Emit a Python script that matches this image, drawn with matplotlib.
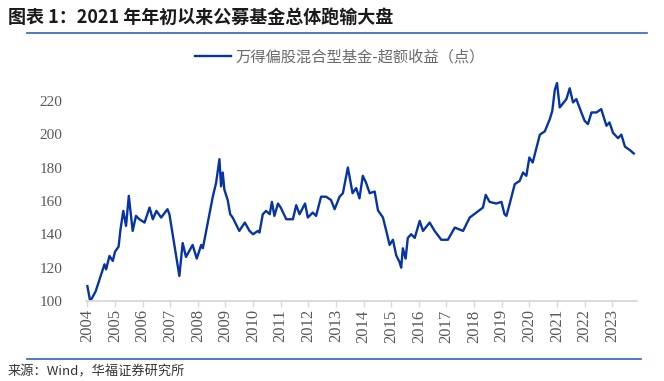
import matplotlib
matplotlib.use("Agg")
import matplotlib.pyplot as plt

plt.rcParams['font.family'] = ['Noto Sans CJK SC', 'DejaVu Sans']

# 万得偏股混合型基金-超额收益（点），
years = [
    2004.0, 2004.1, 2004.2, 2004.3, 2004.5, 2004.62, 2004.68, 2004.8, 2004.92, 2005.0,
    2005.13, 2005.2, 2005.3, 2005.4, 2005.5, 2005.64, 2005.76, 2005.88, 2006.07, 2006.25,
    2006.37, 2006.5, 2006.67, 2006.9, 2006.97, 2007.15, 2007.33, 2007.45, 2007.57, 2007.81,
    2007.96, 2008.12, 2008.18, 2008.3, 2008.42, 2008.54, 2008.66, 2008.78, 2008.84, 2008.9,
    2008.96, 2009.08, 2009.17, 2009.26, 2009.5, 2009.7, 2009.87, 2010.0, 2010.17, 2010.23,
    2010.35, 2010.47, 2010.6, 2010.68, 2010.77, 2010.9, 2011.0, 2011.2, 2011.44, 2011.56,
    2011.68, 2011.88, 2011.98, 2012.16, 2012.28, 2012.46, 2012.64, 2012.82, 2012.95, 2013.13,
    2013.25, 2013.43, 2013.6, 2013.73, 2013.85, 2013.97, 2014.09, 2014.22, 2014.4, 2014.52,
    2014.7, 2014.82, 2014.94, 2015.06, 2015.18, 2015.3, 2015.36, 2015.42, 2015.52, 2015.6,
    2015.72, 2015.85, 2016.03, 2016.15, 2016.39, 2016.57, 2016.81, 2017.05, 2017.3, 2017.6,
    2017.84, 2018.08, 2018.32, 2018.42, 2018.56, 2018.8, 2018.99, 2019.1, 2019.17, 2019.29,
    2019.47, 2019.65, 2019.77, 2019.89, 2020.0, 2020.12, 2020.38, 2020.56, 2020.74, 2020.83,
    2020.92, 2021.0, 2021.1, 2021.34, 2021.46, 2021.58, 2021.7, 2021.88, 2022.0, 2022.12,
    2022.25, 2022.43, 2022.6, 2022.79, 2022.9, 2023.03, 2023.21, 2023.33, 2023.46, 2023.64,
    2023.78,
]
values = [
    108.9, 100.0, 102.7, 105.8, 116.0, 122.0, 119.0, 127.0, 124.0, 129.5,
    132.6, 143.0, 154.0, 145.0, 163.0, 142.0, 151.0, 149.0, 147.0, 156.0,
    149.0, 154.0, 150.0, 155.0, 152.0, 133.6, 115.0, 134.7, 126.4, 133.6,
    125.4, 133.6, 131.6, 141.9, 152.0, 162.5, 170.8, 185.0, 168.7, 177.0,
    166.7, 160.5, 152.0, 150.0, 142.0, 147.0, 142.0, 140.0, 142.0, 141.0,
    152.0, 154.0, 152.0, 159.4, 151.0, 158.4, 156.0, 149.0, 149.0, 157.4,
    152.0, 158.4, 150.0, 153.0, 151.0, 162.5, 162.5, 160.5, 155.0, 162.5,
    164.6, 180.0, 164.6, 167.7, 161.5, 175.0, 170.8, 164.6, 165.6, 154.3,
    150.0, 142.0, 133.6, 136.7, 127.4, 123.3, 120.0, 131.6, 125.4, 137.8,
    140.0, 137.8, 148.0, 142.0, 147.0, 142.0, 136.7, 136.7, 144.0, 142.0,
    150.0, 153.0, 156.0, 163.6, 159.4, 158.4, 159.4, 152.0, 151.0, 158.4,
    170.0, 172.0, 177.0, 175.0, 186.0, 183.0, 199.7, 201.7, 209.0, 214.0,
    226.5, 230.6, 216.0, 221.0, 227.5, 219.0, 221.0, 213.0, 208.0, 206.0,
    213.0, 213.0, 215.0, 205.0, 207.0, 200.7, 197.6, 199.7, 192.5, 190.4,
    188.4,
]

year_ticks = list(range(2004, 2024))
value_ticks = [100, 120, 140, 160, 180, 200, 220]

line_color = '#0633a6'
grey = '#595959'

fig = plt.figure(figsize=(6.64, 3.81), dpi=100)
ax = fig.add_axes([0.1295, 0.21, 0.83, 0.60])

ax.plot(years, values, color=line_color, lw=1.7,
        label='万得偏股混合型基金-超额收益（点）')

ax.set_xlim(2003.95, 2023.9)
ax.set_ylim(100, 237)
ax.set_xticks(year_ticks)
ax.set_xticklabels([str(y) for y in year_ticks], rotation=90,
                   family='Liberation Serif', fontsize=12, color=grey)
ax.set_yticks(value_ticks)
ax.set_yticklabels([str(v) for v in value_ticks],
                   family='Liberation Serif', fontsize=11, color=grey)

for side in ['top', 'right', 'left']:
    ax.spines[side].set_visible(False)
ax.spines['bottom'].set_color('#d9d9d9')
ax.spines['bottom'].set_linewidth(1.3)
ax.tick_params(axis='x', length=4, width=1, color='#d9d9d9', pad=2)
ax.tick_params(axis='y', length=0, pad=17)

ax.legend(loc='center', bbox_to_anchor=(0.512, 0.85), bbox_transform=fig.transFigure,
          frameon=False, fontsize=11, labelcolor='#6b6b6b',
          handlelength=2.3, handletextpad=0.3)

# title, rules and source
fig.text(0.012, 0.955, '图表 1：2021 年年初以来公募基金总体跑输大盘',
         fontsize=13, fontweight='bold', color='#1a1a1a', va='center')
fig.add_artist(plt.Line2D([0.04, 0.975], [0.913, 0.913], color='#2e63b8', lw=1.2))
fig.add_artist(plt.Line2D([0.04, 0.965], [0.058, 0.058], color='#2e63b8', lw=1.2))
fig.text(0.012, 0.025, '来源：Wind，华福证券研究所', fontsize=9.5, color='#333333',
         va='center')

fig.savefig('out.png', dpi=100)
